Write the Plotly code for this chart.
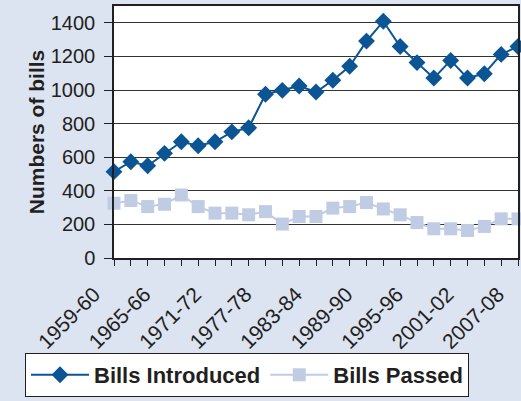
import plotly.graph_objects as go

sessions = ["1959-60", "1961-62", "1963-64", "1965-66", "1967-68", "1969-70",
            "1971-72", "1973-74", "1975-76", "1977-78", "1979-80", "1981-82",
            "1983-84", "1985-86", "1987-88", "1989-90", "1991-92", "1993-94",
            "1995-96", "1997-98", "1999-00", "2001-02", "2003-04", "2005-06",
            "2007-08"]
bills_introduced = [514, 573, 549, 623, 692, 668, 692, 751, 775, 975, 998, 1024,
                    988, 1058, 1141, 1291, 1409, 1259, 1163, 1071, 1176, 1071,
                    1097, 1212, 1259]
bills_passed = [326, 342, 306, 320, 375, 306, 267, 267, 257, 276, 202, 247,
                247, 297, 306, 330, 292, 257, 211, 174, 174, 164, 188, 233, 233]
labeled_sessions = ["1959-60", "1965-66", "1971-72", "1977-78", "1983-84",
                    "1989-90", "1995-96", "2001-02", "2007-08"]

tick_text = [s if s in labeled_sessions else "" for s in sessions]

fig = go.Figure()
fig.add_trace(go.Scatter(
    x=sessions, y=bills_introduced, name="Bills Introduced",
    mode="lines+markers", cliponaxis=False,
    line=dict(color="#0b5595", width=2),
    marker=dict(symbol="diamond", size=13, color="#0b5595"),
))
fig.add_trace(go.Scatter(
    x=sessions, y=bills_passed, name="Bills Passed",
    mode="lines+markers", cliponaxis=False,
    line=dict(color="#c0cce4", width=2),
    marker=dict(symbol="square", size=13, color="#c0cce4"),
))

W, H = 521, 401
ML, MR, MT, MB = 114, 3, 6, 143
plot_w = W - ML - MR
plot_h = H - MT - MB

font_family = "Liberation Sans, Arial, sans-serif"
fig.update_layout(
    width=W, height=H,
    margin=dict(l=ML, r=MR, t=MT, b=MB, autoexpand=False),
    paper_bgcolor="#dce3f1",
    plot_bgcolor="white",
    font=dict(family=font_family, size=20, color="#231f20"),
    showlegend=True,
    legend=dict(
        orientation="h", xref="paper", yref="paper",
        x=(25 - ML) / plot_w, y=-(353 - (MT + plot_h)) / plot_h,
        xanchor="left", yanchor="top",
        bgcolor="white", bordercolor="#231f20", borderwidth=1,
        font=dict(family=font_family, size=22, color="#231f20", weight="bold"),
        itemwidth=58,
    ),
    xaxis=dict(
        type="category", range=[0, len(sessions) - 1], automargin=False,
        tickmode="array", tickvals=sessions, ticktext=tick_text,
        tickangle=-45, ticks="outside", ticklen=6, tickcolor="#231f20",
        ticklabelshift=-20, ticklabelstandoff=8,
        showline=True, linecolor="#231f20", linewidth=1.5, mirror=True,
        showgrid=False, tickfont=dict(size=21),
    ),
    yaxis=dict(
        range=[0, 1500], dtick=200, tick0=0, automargin=False,
        ticks="outside", ticklen=8, tickcolor="#231f20",
        ticklabelstandoff=5,
        showline=True, linecolor="#231f20", linewidth=1.5, mirror=True,
        showgrid=True, gridcolor="#333333", gridwidth=1.3,
        zeroline=False, tickfont=dict(size=20),
        title=dict(text="<b>Numbers of bills</b>", standoff=0,
                   font=dict(size=21, family=font_family)),
    ),
)

fig.write_html("out.html", config={"displayModeBar": False},
               post_script="document.body.style.margin='0';document.body.style.overflow='hidden';")
